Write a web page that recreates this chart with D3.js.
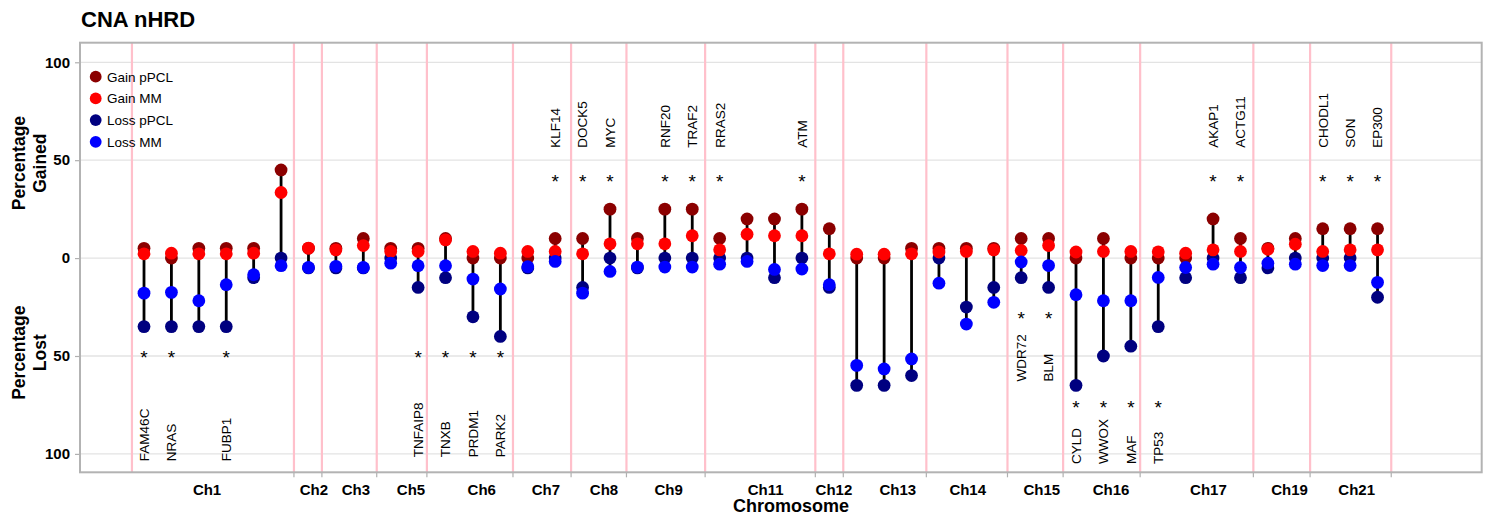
<!DOCTYPE html>
<html>
<head>
<meta charset="utf-8">
<script src="https://cdn.jsdelivr.net/npm/d3@7"></script>
<style>
  body { margin: 0; background: #fff; }
  text { font-family: "Liberation Sans", Arial, sans-serif; fill: #000; }
</style>
</head>
<body>
<svg id="chart" width="1489" height="517"></svg>
<script>
// Gene loci (ordered along the genome), one slot each
const positions = d3.range(1, 47);

// Percent of samples with a gain / loss at each locus
const gainPPCL = [5, 0, 5, 5, 5, 45, 5, 5, 10, 5, 5, 10, 0, 0, 0, 10, 10, 25, 10, 25, 25, 10, 20, 20, 25, 15,
  0, 0, 5, 5, 5, 5, 10, 10, 0, 10, 0, 0, 0, 20, 10, 5, 10, 15, 15, 15];
const gainMM = [2.2, 2.5, 2.2, 2.2, 2.5, 33.5, 5.1, 4.2, 6.4, 3.4, 3.4, 9.3, 3.4, 2.5, 3.4, 3.4, 2.2, 7.3, 7.3, 7.3, 11.4, 4.2, 12.2, 11.4, 11.4, 2.2,
  2.0, 2.0, 2.2, 3.1, 3.4, 4.2, 3.9, 6.4, 3.1, 3.4, 3.4, 3.2, 2.5, 4.2, 3.4, 4.5, 7.1, 3.4, 4.2, 4.2];
const lossPPCL = [35, 35, 35, 35, 10, 0, 5, 5, 5, 0, 15, 10, 30, 40, 5, 0, 15, 0, 5, 0, 0, 0, 0, 10, 0, 15,
  65, 65, 60, 0, 25, 15, 10, 15, 65, 50, 45, 35, 10, 0, 10, 5, 0, 0, 0, 20];
const lossMM = [17.9, 17.5, 21.8, 13.6, 8.5, 3.9, 4.8, 4.2, 4.8, 2.6, 3.9, 3.9, 10.7, 15.8, 4.4, 1.7, 17.9, 6.8, 4.6, 4.6, 4.6, 3.1, 1.7, 5.8, 5.6, 13.6,
  54.8, 56.6, 51.5, 12.8, 33.7, 22.6, 2.0, 3.8, 18.7, 21.8, 21.8, 9.9, 4.8, 3.1, 4.8, 2.6, 3.1, 3.8, 3.8, 12.4];

// Chromosome axis labels and boundaries (in locus-slot units)
const chromLabels = ["Ch1", "Ch2", "Ch3", "Ch5", "Ch6", "Ch7", "Ch8", "Ch9", "Ch11", "Ch12", "Ch13", "Ch14", "Ch15", "Ch16", "Ch17", "Ch19", "Ch21"];
const chromBreaks = [3.3, 7.2, 8.73, 10.74, 13.32, 15.66, 17.78, 20.14, 23.68, 26.17, 28.5, 31.05, 33.75, 36.28, 39.83, 42.79, 45.24];
const chromBounds = [0.56, 6.47, 7.49, 9.49, 11.32, 14.46, 16.58, 18.6, 21.47, 25.49, 26.51, 29.54, 32.5, 34.53, 37.34, 41.47, 43.54, 46.5];

// Significant genes
const gainHitPos = [16, 17, 18, 20, 21, 22, 25, 40, 41, 44, 45, 46];
const gainHitGenes = ["KLF14", "DOCK5", "MYC", "RNF20", "TRAF2", "RRAS2", "ATM", "AKAP1", "ACTG11", "CHODL1", "SON", "EP300"];
const lossHitPos = [1, 2, 4, 11, 12, 13, 14, 33, 34, 35, 36, 37, 38];
const lossHitGenes = ["FAM46C", "NRAS", "FUBP1", "TNFAIP8", "TNXB", "PRDM1", "PARK2", "WDR72", "BLM", "CYLD", "WWOX", "MAF", "TP53"];

const yTicks = [100, 50, 0, -50, -100];
const seriesNames = ["Gain pPCL", "Gain MM", "Loss pPCL", "Loss MM"];
const seriesColors = ["#8B0000", "#FF0000", "#000080", "#0000FF"];

// ---- layout ----
const svg = d3.select("#chart");
const panel = { left: 80, right: 1481.7, top: 42.7, bottom: 472.3 };

const x = d3.scaleLinear().domain([-1.335, 49.8]).range([panel.left, panel.right]);
const y = d3.scaleLinear().domain([-109.4, 110]).range([panel.bottom, panel.top]);

// title
svg.append("text").attr("x", 81).attr("y", 27)
  .style("font-size", "22px").style("font-weight", "bold").text("CNA nHRD");

// horizontal grid
svg.append("g").selectAll("line").data(yTicks).join("line")
  .attr("x1", panel.left).attr("x2", panel.right)
  .attr("y1", d => y(d)).attr("y2", d => y(d))
  .attr("stroke", "#e3e3e3").attr("stroke-width", 1.3);

// chromosome boundaries
svg.append("g").selectAll("line").data(chromBounds).join("line")
  .attr("x1", d => x(d)).attr("x2", d => x(d))
  .attr("y1", panel.top).attr("y2", panel.bottom)
  .attr("stroke", "#FFC0CB").attr("stroke-width", 2.2);

// y axis
const yAxis = d3.axisLeft(y).tickValues(yTicks).tickSize(5).tickPadding(5)
  .tickFormat(d => Math.abs(d));
const gy = svg.append("g").attr("transform", `translate(${panel.left},0)`).call(yAxis);
gy.select(".domain").remove();
gy.selectAll(".tick line").attr("stroke", "#b0b0b0").attr("stroke-width", 1.2);
gy.selectAll(".tick text").style("font-size", "15px").style("font-weight", "bold")
  .style("font-family", "'Liberation Sans', Arial, sans-serif").attr("fill", "#111");

// x axis: boundary ticks with chromosome names between them
const gx = svg.append("g").attr("transform", `translate(0,${panel.bottom})`);
gx.selectAll("line").data(chromBounds.slice(1)).join("line")
  .attr("x1", d => x(d)).attr("x2", d => x(d)).attr("y1", 0).attr("y2", 5)
  .attr("stroke", "#b0b0b0").attr("stroke-width", 1.2);
gx.selectAll("text").data(chromLabels).join("text")
  .attr("x", (d, i) => x(chromBreaks[i])).attr("y", 23)
  .attr("text-anchor", "middle")
  .style("font-size", "15px").style("font-weight", "bold").text(d => d);

// axis titles
svg.append("text").attr("x", 791).attr("y", 512).attr("text-anchor", "middle")
  .style("font-size", "18px").style("font-weight", "bold").text("Chromosome");

function yTitle(lines, cy) {
  const t = svg.append("text")
    .attr("transform", `translate(0,${cy}) rotate(-90)`)
    .attr("text-anchor", "middle")
    .style("font-size", "17.5px").style("font-weight", "bold");
  lines.forEach((s, i) => t.append("tspan").attr("x", 0).attr("y", 25 + i * 21).text(s));
}
yTitle(["Percentage", "Gained"], y(48.5));
yTitle(["Percentage", "Lost"], y(-48.3));

// ---- marks ----
const rows = positions.map((p, i) => ({
  pos: p,
  vals: [gainPPCL[i], gainMM[i], -lossPPCL[i], -lossMM[i]]
}));

// range segment across the four values at each locus
svg.append("g").selectAll("line").data(rows).join("line")
  .attr("x1", d => x(d.pos)).attr("x2", d => x(d.pos))
  .attr("y1", d => y(d3.max(d.vals))).attr("y2", d => y(d3.min(d.vals)))
  .attr("stroke", "#000").attr("stroke-width", 2.8);

// points: pPCL layers first, MM layers on top
const drawOrder = [0, 2, 1, 3];
drawOrder.forEach(k => {
  svg.append("g").selectAll("circle").data(rows).join("circle")
    .attr("cx", d => x(d.pos)).attr("cy", d => y(d.vals[k]))
    .attr("r", 6.4).attr("fill", seriesColors[k]);
});

// ---- significance annotations ----
const geneFont = 13.5;
const starFont = 19;

function annotate(posArr, genes, levelFn) {
  const g = svg.append("g");
  posArr.forEach((p, i) => {
    const lv = levelFn(p);
    g.append("text").attr("x", x(p)).attr("y", y(lv.star) + 0.57 * starFont)
      .attr("text-anchor", "middle").style("font-size", starFont + "px").text("*");
    const tx = x(p), ty = y(lv.text);
    g.append("text")
      .attr("transform", `translate(${tx},${ty}) rotate(-90)`)
      .attr("x", 0).attr("y", 0.36 * geneFont)
      .attr("text-anchor", "start")
      .style("font-size", geneFont + "px").text(genes[i]);
  });
}

annotate(gainHitPos, gainHitGenes, () => ({ star: 41.5, text: 56.3 }));
annotate(lossHitPos, lossHitGenes, p => {
  if (p <= 4) return { star: -48.5, text: -103.7 };
  if (p <= 14) return { star: -48.5, text: -101.7 };
  if (p <= 34) return { star: -28.6, text: -63 };
  return { star: -74.3, text: -105.2 };
});

// ---- legend ----
const legend = svg.append("g");
seriesNames.forEach((name, i) => {
  const ly = 76.7 + i * 21.7;
  legend.append("circle").attr("cx", 95.7).attr("cy", ly).attr("r", 5.9).attr("fill", seriesColors[i]);
  legend.append("text").attr("x", 107).attr("y", ly + 5)
    .style("font-size", "13.5px").attr("fill", "#222").text(name);
});

// panel border
svg.append("rect")
  .attr("x", panel.left).attr("y", panel.top)
  .attr("width", panel.right - panel.left).attr("height", panel.bottom - panel.top)
  .attr("fill", "none").attr("stroke", "#b3b3b3").attr("stroke-width", 2);
</script>
</body>
</html>
